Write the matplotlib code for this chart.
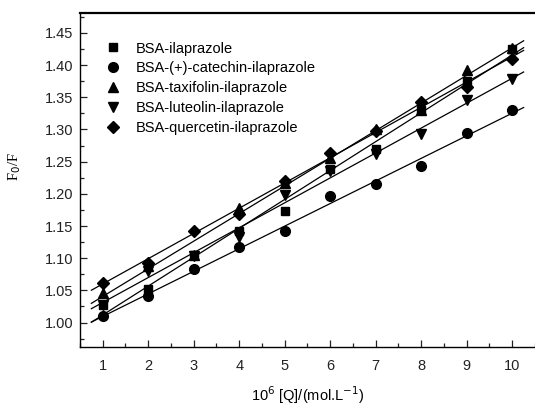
import numpy as np
import matplotlib
matplotlib.use("Agg")
import matplotlib.pyplot as plt
from matplotlib.ticker import MultipleLocator

conc = [1, 2, 3, 4, 5, 6, 7, 8, 9, 10]
series_names = ["BSA-ilaprazole", "BSA-(+)-catechin-ilaprazole", "BSA-taxifolin-ilaprazole",
                "BSA-luteolin-ilaprazole", "BSA-quercetin-ilaprazole"]
ila = [1.028, 1.052, 1.105, 1.142, 1.173, 1.238, 1.270, 1.330, 1.375, 1.425]
cat = [1.010, 1.042, 1.083, 1.118, 1.142, 1.197, 1.215, 1.243, 1.294, 1.330]
tax = [1.046, 1.088, 1.105, 1.178, 1.217, 1.255, 1.300, 1.330, 1.392, 1.427]
lut = [1.027, 1.080, 1.103, 1.133, 1.198, 1.235, 1.262, 1.293, 1.345, 1.378]
que = [1.062, 1.093, 1.143, 1.168, 1.220, 1.263, 1.298, 1.342, 1.366, 1.410]
markers = ["s", "o", "^", "v", "D"]
msizes = [6, 7, 7, 7, 6]

plt.rcParams['font.family'] = ['Liberation Sans', 'DejaVu Sans']
fig = plt.figure(figsize=(5.35, 4.05), dpi=100)
ax = fig.add_axes([0.1495, 0.1432, 0.8505, 0.8248])

xline = np.array([0.75, 10.25])
for name, ys, m, ms in zip(series_names, [ila, cat, tax, lut, que], markers, msizes):
    x = np.array(conc, float)
    y = np.array(ys, float)
    k, b = np.polyfit(x, y, 1)
    ax.plot(xline, k * xline + b, color='black', lw=0.9, zorder=1)
    ax.plot(x, y, linestyle='none', marker=m, color='black', ms=ms, label=name, zorder=2)

ax.set_xlim(0.5, 10.5)
ax.set_ylim(0.962, 1.481)
ax.xaxis.set_major_locator(MultipleLocator(1))
ax.xaxis.set_minor_locator(MultipleLocator(0.5))
ax.yaxis.set_major_locator(MultipleLocator(0.05))
ax.yaxis.set_minor_locator(MultipleLocator(0.025))
ax.yaxis.set_major_formatter(matplotlib.ticker.FormatStrFormatter('%.2f'))
ax.tick_params(which='both', direction='in', top=False, right=False, labelsize=10.5, colors='#222222')
ax.tick_params(which='major', length=5, width=0.9)
ax.tick_params(which='minor', length=3, width=0.9)
ax.tick_params(axis='x', which='major', pad=8.5)
ax.tick_params(axis='y', which='major', pad=5.0)
ax.spines['right'].set_visible(False)
ax.spines['top'].set_linewidth(1.6)
for s in ['left', 'bottom']:
    ax.spines[s].set_linewidth(1.0)

ax.set_xlabel(r'10$^6$ [Q]/(mol.L$^{-1}$)', fontsize=10.5, labelpad=8)
ax.set_ylabel(r'F$_0$/F', fontsize=10.5, family='Liberation Serif')
ax.yaxis.set_label_coords(-0.125, 0.54)

leg = ax.legend(loc='upper left', bbox_to_anchor=(0.040, 0.932), frameon=False, fontsize=10.5,
                handletextpad=1.0, labelspacing=0.4, handlelength=1.2, borderaxespad=0)

fig.savefig('out.png', dpi=100)
